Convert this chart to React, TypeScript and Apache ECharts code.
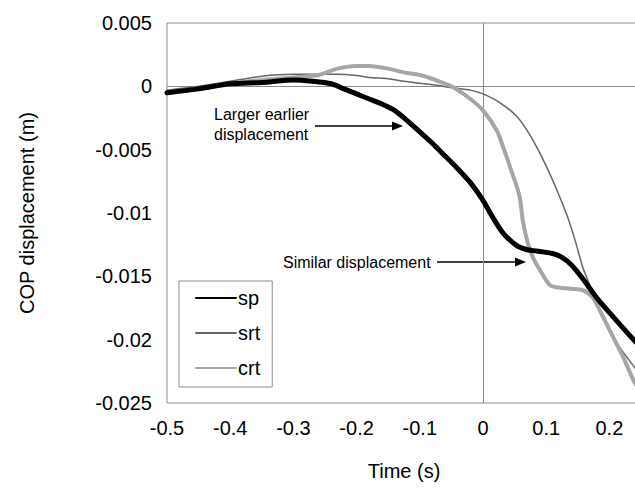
import React, { useEffect, useRef } from "react";
import * as echarts from "echarts";

const seriesNames = ["sp", "srt", "crt"];

const spTime = [-0.5, -0.45, -0.4, -0.35, -0.3, -0.27, -0.24, -0.22, -0.2, -0.18, -0.16, -0.14, -0.12, -0.1, -0.08, -0.06, -0.04, -0.02, 0, 0.016, 0.032, 0.054, 0.07, 0.085, 0.11, 0.125, 0.14, 0.155, 0.18, 0.206, 0.24, 0.25];
const spValue = [-0.0005, -0.0002, 0.0002, 0.0003, 0.0005, 0.0004, 0.0002, -0.0002, -0.0006, -0.001, -0.0014, -0.0019, -0.0027, -0.0036, -0.0045, -0.0055, -0.0065, -0.0076, -0.009, -0.0104, -0.0116, -0.0126, -0.0129, -0.013, -0.0132, -0.0135, -0.0141, -0.015, -0.0167, -0.0182, -0.0201, -0.0206];

const srtTime = [-0.5, -0.45, -0.4, -0.35, -0.3, -0.23, -0.2, -0.18, -0.15, -0.125, -0.1, -0.075, -0.05, -0.02, 0, 0.027, 0.054, 0.07, 0.085, 0.101, 0.117, 0.133, 0.146, 0.158, 0.174, 0.19, 0.209, 0.24, 0.25];
const srtValue = [-0.0003, 0, 0.0004, 0.0008, 0.00095, 0.00095, 0.00085, 0.0007, 0.0006, 0.0004, 0.00025, 0.0001, -0.0001, -0.0003, -0.0006, -0.0013, -0.0024, -0.0035, -0.0048, -0.0064, -0.0082, -0.0102, -0.0122, -0.0143, -0.0163, -0.0183, -0.0201, -0.0222, -0.0229];

const crtTime = [-0.5, -0.45, -0.4, -0.35, -0.3, -0.26, -0.23, -0.2, -0.18, -0.15, -0.125, -0.1, -0.075, -0.05, -0.02, 0, 0.022, 0.032, 0.043, 0.054, 0.059, 0.063, 0.071, 0.079, 0.09, 0.106, 0.122, 0.158, 0.174, 0.19, 0.206, 0.222, 0.24, 0.25];
const crtValue = [-0.00055, -0.0002, 0.0002, 0.0005, 0.0007, 0.0009, 0.0014, 0.0016, 0.0016, 0.0014, 0.0011, 0.0009, 0.0005, 0, -0.001, -0.0019, -0.0035, -0.0048, -0.0064, -0.008, -0.009, -0.0106, -0.0124, -0.0135, -0.0145, -0.0157, -0.0159, -0.0161, -0.0167, -0.0182, -0.0198, -0.0214, -0.0234, -0.0241];

const annotationTexts = ["Larger earlier\ndisplacement", "Similar displacement"];

const FONT = "'Liberation Sans', Arial, sans-serif";

function pairs(t: number[], v: number[]) {
  return t.map((x, i) => [x, v[i]]);
}

function arrow(x1: number, x2: number, y: number) {
  return [
    { type: "line", shape: { x1, y1: y, x2: x2 - 8, y2: y }, style: { stroke: "#000", lineWidth: 1.5 } },
    { type: "polygon", shape: { points: [[x2, y], [x2 - 11, y - 4.5], [x2 - 11, y + 4.5]] }, style: { fill: "#000" } },
  ];
}

export default function App() {
  const ref = useRef<HTMLDivElement>(null);
  useEffect(() => {
    if (!ref.current) return;
    const chart = echarts.init(ref.current, undefined, { renderer: "svg" });
    const line = (name: string, data: number[][], color: string, width: number, z: number, extra: any = {}) => ({
      name,
      type: "line",
      data,
      showSymbol: false,
      symbol: "none",
      smooth: 0.25,
      lineStyle: { color, width, cap: "round", join: "round" },
      itemStyle: { color },
      z,
      ...extra,
    });
    chart.setOption({
      animation: false,
      textStyle: { fontFamily: FONT },
      grid: {
        left: 167,
        top: 23,
        bottom: 87,
        right: -6,
        outerBoundsMode: "none",
        containLabel: false,
        show: true,
        borderColor: "#8c8c8c",
        borderWidth: 1,
        backgroundColor: "#fff",
      },
      xAxis: {
        type: "value",
        min: -0.5,
        max: 0.25,
        interval: 0.1,
        axisLine: { show: false, onZero: false },
        axisTick: { show: false },
        splitLine: { show: false },
        axisLabel: {
          color: "#000",
          fontSize: 20,
          fontFamily: FONT,
          margin: 15,
          showMaxLabel: false,
          formatter: (v: number) => {
            const s = String(+v.toFixed(1));
            return s === "-0" ? "0" : s;
          },
        },
        name: "Time (s)",
        nameLocation: "middle",
        nameGap: 58,
        nameTextStyle: { color: "#000", fontSize: 20, fontFamily: FONT },
      },
      yAxis: {
        type: "value",
        min: -0.025,
        max: 0.005,
        interval: 0.005,
        axisLine: { show: false, onZero: false },
        axisTick: { show: false },
        splitLine: { show: false },
        axisLabel: {
          color: "#000",
          fontSize: 20,
          fontFamily: FONT,
          margin: 15,
          formatter: (v: number) => {
            const s = String(+v.toFixed(3));
            return s === "-0" ? "0" : s;
          },
        },
        name: "COP displacement (m)",
        nameLocation: "middle",
        nameGap: 130,
        nameTextStyle: { color: "#000", fontSize: 20, fontFamily: FONT },
      },
      legend: {
        orient: "vertical",
        left: 179,
        top: 281,
        padding: [7, 12, 9, 16],
        itemWidth: 40,
        itemHeight: 14,
        itemGap: 15,
        borderColor: "#8c8c8c",
        borderWidth: 1,
        backgroundColor: "#fff",
        itemStyle: { opacity: 0 },
        textStyle: { color: "#000", fontSize: 20, fontFamily: FONT, padding: [0, 0, 0, -3] },
        data: seriesNames,
      },
      series: [
        line(seriesNames[1], pairs(srtTime, srtValue), "#666666", 1.5, 3, {
          markLine: {
            silent: true,
            symbol: "none",
            label: { show: false },
            lineStyle: { color: "#8c8c8c", width: 1, type: "solid" },
            data: [{ xAxis: 0 }, { yAxis: 0 }],
            z: 1,
          },
        }),
        line(seriesNames[2], pairs(crtTime, crtValue), "#a6a6a6", 4, 4),
        line(seriesNames[0], pairs(spTime, spValue), "#000000", 5, 5),
      ],
      graphic: [
        {
          type: "text",
          left: 214,
          top: 104,
          style: { text: annotationTexts[0], fill: "#000", font: `16px ${FONT}`, lineHeight: 20 },
        },
        ...arrow(315, 403, 126),
        {
          type: "text",
          left: 283,
          top: 252,
          style: { text: annotationTexts[1], fill: "#000", font: `16px ${FONT}`, lineHeight: 20 },
        },
        ...arrow(437, 526, 262),
      ],
    });
    return () => chart.dispose();
  }, []);
  return <div ref={ref} style={{ position: "fixed", left: 0, top: 0, width: 635, height: 490, background: "#fff" }} />;
}
